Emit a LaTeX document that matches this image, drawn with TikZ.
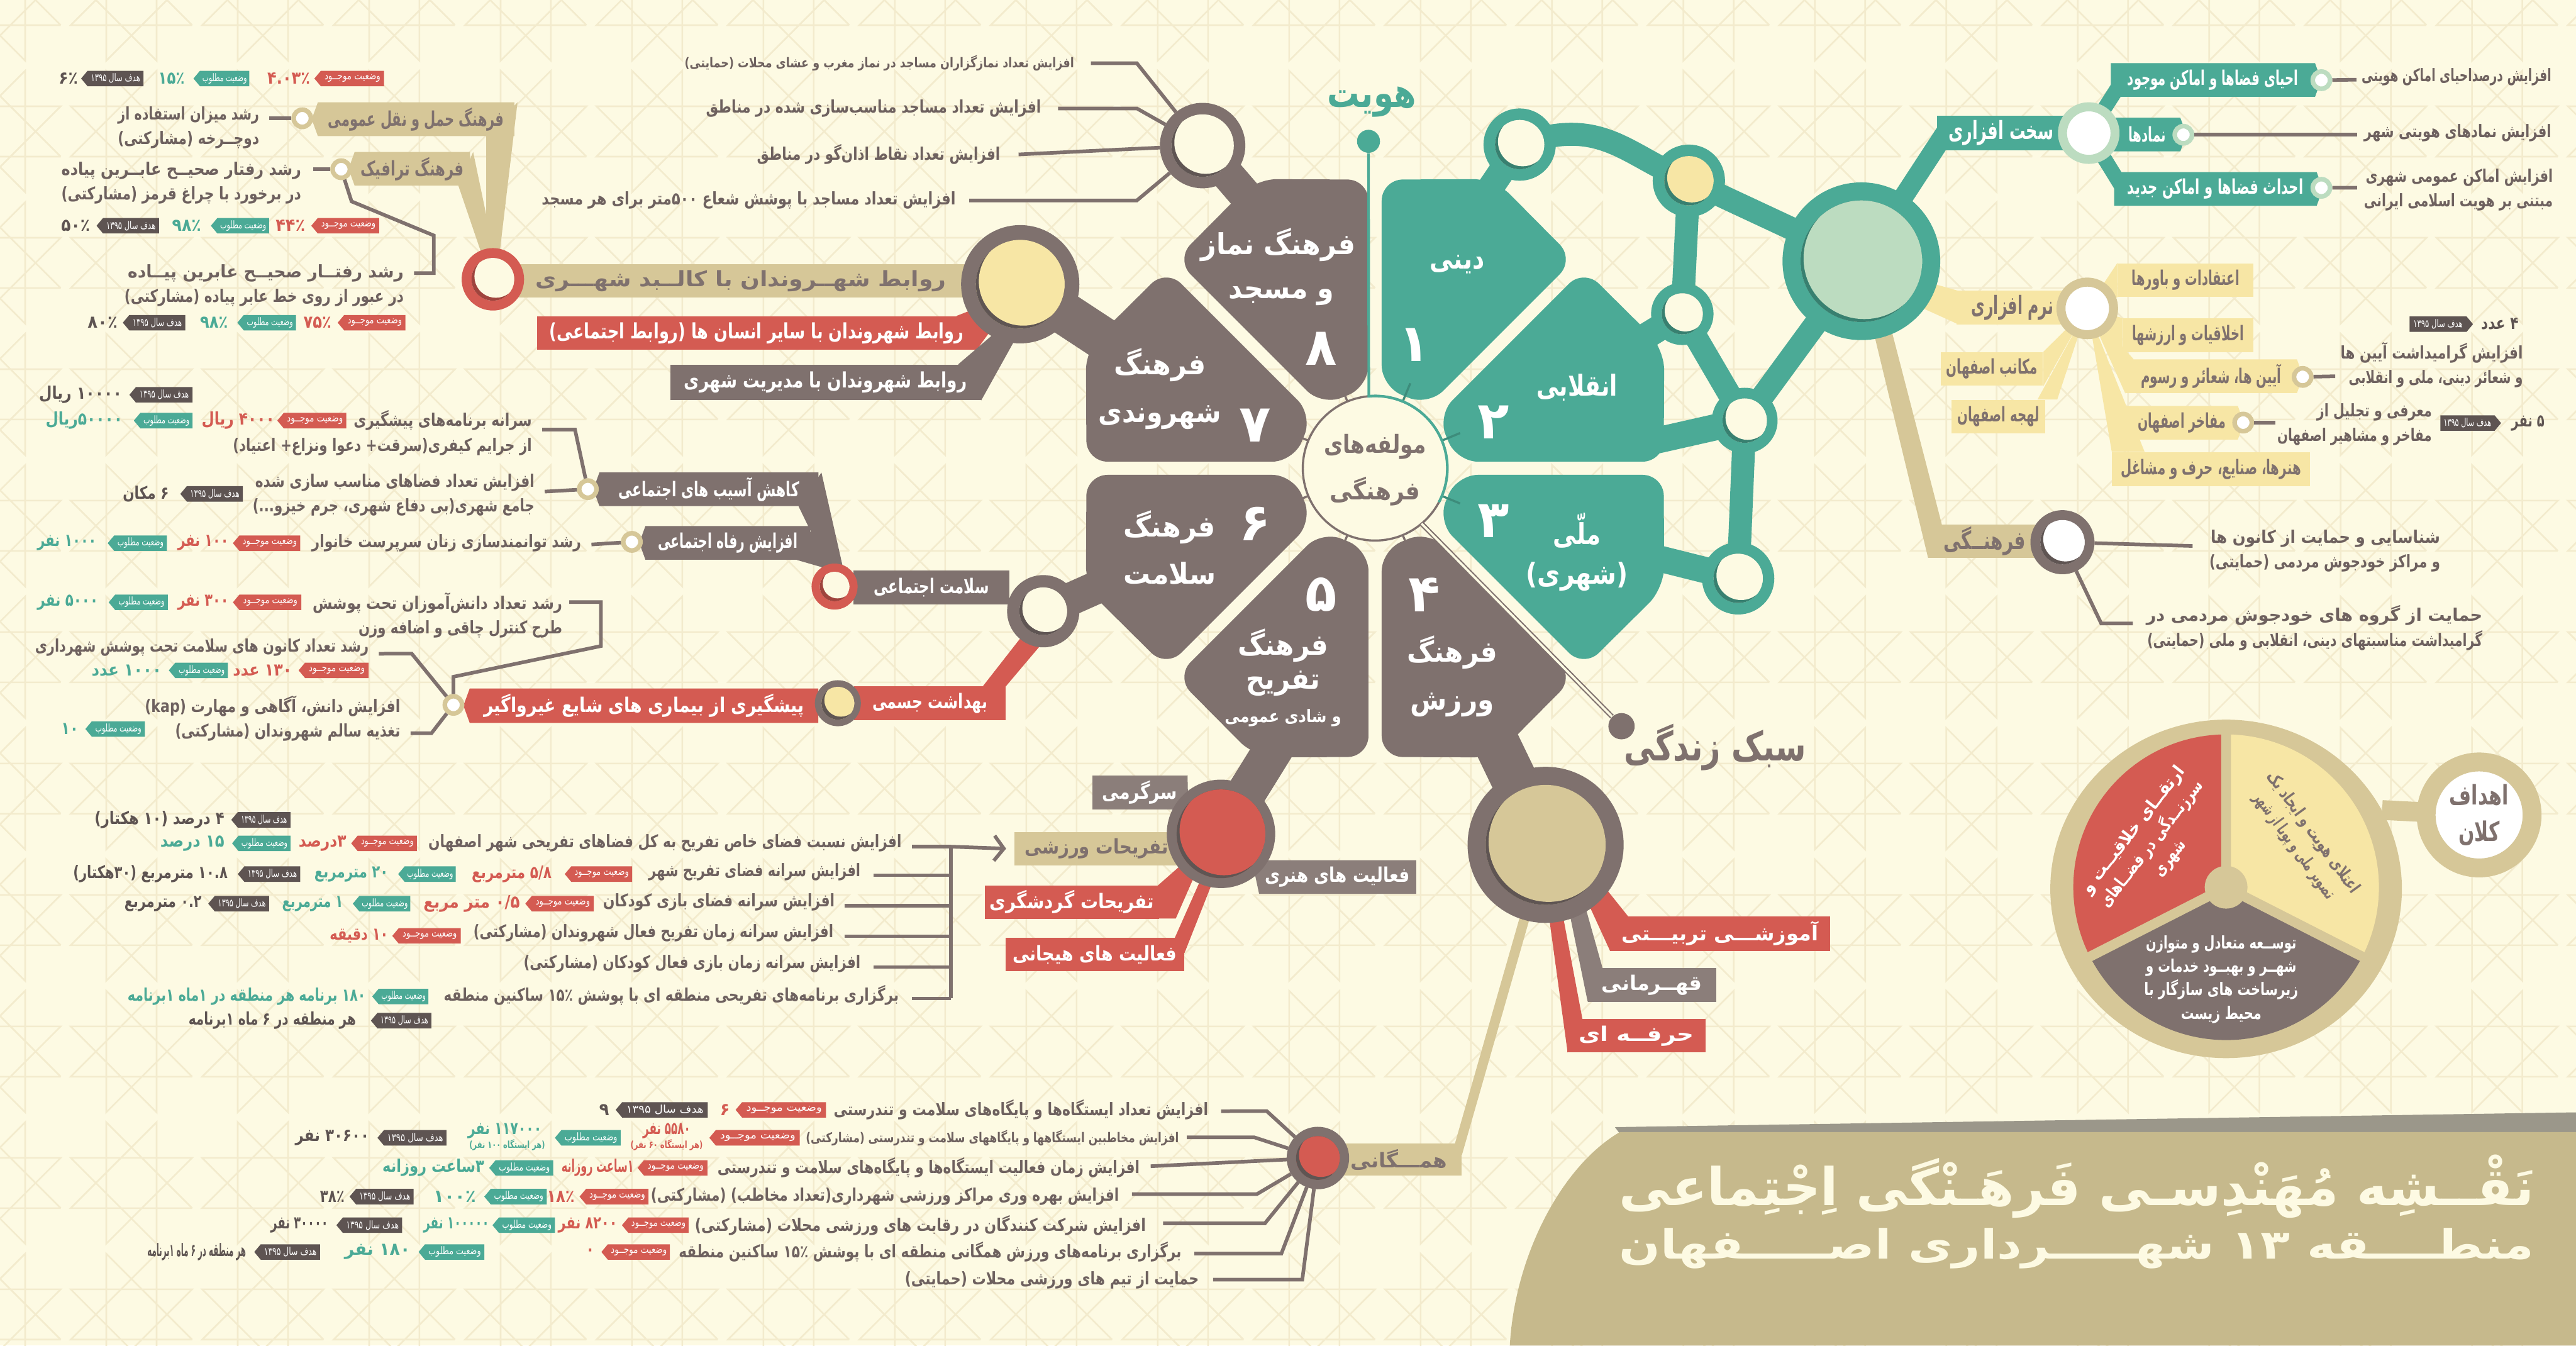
\documentclass[tikz,border=0pt]{standalone}
\usepackage{fontspec}
\usepackage{graphicx}
\usetikzlibrary{calc,shapes.symbols,arrows.meta}
\newfontfamily\arabicfont[Script=Arabic]{DejaVu Sans}
\TeXXeTstate=1
\definecolor{bgcream}{HTML}{FDFAE3}
\definecolor{patline}{HTML}{F3EBCD}
\definecolor{iteal}{HTML}{4BAA96}
\definecolor{dteal}{HTML}{3D8C7B}
\definecolor{ltteal}{HTML}{BCDCC0}
\definecolor{ibrown}{HTML}{7F716E}
\definecolor{lbrown}{HTML}{8B7E7A}
\definecolor{dbrown}{HTML}{5E5452}
\definecolor{txtbrown}{HTML}{6E615F}
\definecolor{ired}{HTML}{D45B52}
\definecolor{itan}{HTML}{D6C798}
\definecolor{iyellow}{HTML}{F7E6A5}
\definecolor{ttan}{HTML}{C6B98C}
\definecolor{tgrey}{HTML}{9B978A}
\newlength{\upx}\setlength{\upx}{0.03cm}
\newcommand{\fw}[2]{\resizebox{#1\upx}{\height}{\beginR #2\endR}}
\newcommand{\tgm}[1]{\fw{#1}{وضعیت موجــود}}
\newcommand{\tgo}[1]{\fw{#1}{وضعیت مطلوب}}
\newcommand{\tgh}[1]{\fw{#1}{هدف سال ۱۳۹۵}}
\newcommand{\ringnode}[6]{%
  \node[circle, inner sep=0pt, fill=#6, draw=#5, line width={(#3-#4)*\upx}, minimum size={(#3+#4)*\upx}] (#1) at #2 {};
  \begin{scope}
    \clip (#1.center) circle (#4);
    \fill[#5!75!black] (#1.center) circle (#4);
    \fill[#6] ($(#1.center)+(1.8,-1.8)$) circle (#4);
  \end{scope}}
\tikzset{
  fsz/.style 2 args={font=\arabicfont\fontsize{#1}{#2}\selectfont},
  bfsz/.style 2 args={font=\arabicfont\bfseries\fontsize{#1}{#2}\selectfont},
  item/.style={bfsz={9pt}{12.8pt}, text=txtbrown, inner sep=0pt, anchor=east, align=right},
  smallitem/.style={item, bfsz={7pt}{8pt}},
  itemw/.style={item, anchor=west},
  conn/.style={draw=ibrown, line width=2.2\upx},
  tagst/.style={signal, signal to=west, signal pointer angle=100, minimum height=9.4\upx, inner sep=0pt, anchor=east, text=white, fsz={5.5pt}{5.5pt}},
  tagr/.style={tagst, fill=ired, minimum width=#1\upx},
  tagt/.style={tagst, fill=iteal, minimum width=#1\upx},
  tagd/.style={tagst, fill=dbrown, minimum width=#1\upx},
  tagde/.style={tagd=#1, signal to=east},
  valst/.style={anchor=east, inner sep=0pt, bfsz={9pt}{9pt}},
  valr/.style={valst, text=ired},
  valt/.style={valst, text=iteal},
  vald/.style={valst, text=dbrown},
  barst/.style={inner sep=0pt, minimum height=20.5\upx, bfsz={10.5pt}{10.5pt}},
  tanbar/.style={barst, fill=itan, text=ibrown},
  redbar/.style={barst, fill=ired, text=white},
  brbar/.style={barst, fill=ibrown, text=white},
  lbbar/.style={barst, fill=lbrown, text=white},
  tealbar/.style={barst, fill=iteal, text=white},
  yelbar/.style={barst, fill=iyellow, text=ibrown},
  ptw/.style={signal, signal to=west, signal pointer angle=140},
  pte/.style={signal, signal to=east, signal pointer angle=140},
  sring/.style={circle, inner sep=0pt, fill=white, draw=#1, line width=2.8\upx, minimum size=10.5\upx},
  halo/.style={circle, inner sep=0pt, fill=white, draw=#1, line width=5.5\upx, minimum size=32\upx},
  tiletxt/.style={bfsz={15pt}{15pt}, text=white, inner sep=0pt},
  tilenum/.style={bfsz={27pt}{27pt}, text=white, inner sep=0pt},
}
\begin{document}
\begin{tikzpicture}[x=0.03cm,y=-0.03cm]
\useasboundingbox (0,0) rectangle (1568,819);
\fill[bgcream] (0,0) rectangle (1568,819);
\begin{scope}
  \clip (0,0) rectangle (1568,819);
  \foreach \gx in {0,...,20}{
    \foreach \gy in {0,...,11}{
      \draw[patline, line width=1\upx] plot[samples at={0,3,6,1,4,7,2,5,0}, variable=\k]
        ({\gx*80+40*cos(\k*45+22.5)},{\gy*80+40*sin(\k*45+22.5)});
    }
  }
\end{scope}

\fill[tgrey] (983,686) -- (1568,677) -- (1568,690) -- (986,690) -- cycle;
\fill[ttan] (986,689) .. controls (950,710) and (922,765) .. (919,819) -- (1568,819) -- (1568,689) -- cycle;
\node[bfsz={27pt}{27pt}, text=bgcream, inner sep=0pt] (ttl1) at (1264,722) {\fw{557}{نَقْــشِه مُهَنْدِسـی فَرهَـنْگی اِجْتِماعی}};
\node[bfsz={21pt}{21pt}, text=bgcream, inner sep=0pt] (ttl2) at (1264,760) {\fw{557}{منطــــقه ۱۳ شهـــــرداری اصـــــفهان}};

\coordinate (hubc) at (837,285);
\coordinate (k8) at (732,88.6);
\coordinate (k7) at (621,173);
\coordinate (k6) at (635,372);
\coordinate (k5) at (743.2,507.5);
\coordinate (k4) at (940.8,514.2);
\coordinate (kA) at (925,88);
\coordinate (kB) at (1028,110);
\coordinate (kC) at (1024,191);
\coordinate (kE) at (1062,256);
\coordinate (kD) at (1058,352);
\coordinate (kbig) at (1133,159);

\draw[ibrown, line width=20\upx] (k8) -- (772,135);
\draw[ibrown, line width=26\upx] (k7) -- (685,215);
\draw[ibrown, line width=20\upx] (k6) -- (680,352);
\draw[ibrown, line width=24\upx] (k5) -- (785,440);
\draw[ibrown, line width=28\upx] (k4) -- (905,440);
\draw[iteal, line width=16\upx] (kA) -- (900,125);
\draw[iteal, line width=14\upx] (kA) .. controls (975,70) and (990,95) .. (kB);
\draw[iteal, line width=14\upx] (kB) -- (kbig);
\draw[iteal, line width=14\upx] (kB) -- (kC);
\draw[iteal, line width=16\upx] (kC) -- (985,215);
\draw[iteal, line width=14\upx] (kC) -- (kE);
\draw[iteal, line width=14\upx] (kE) -- (kbig);
\draw[iteal, line width=16\upx] (kE) -- (1000,270);
\draw[iteal, line width=14\upx] (kE) -- (kD);
\draw[iteal, line width=16\upx] (kD) -- (990,335);
\draw[iteal, line width=12\upx] (kbig) -- (1184,81);
\fill[iyellow] (1160,168) -- (1192,177) -- (1192,197.4) -- (1158,182) -- cycle;
\fill[itan] (1138,192) -- (1149,192) -- (1182,319.3) -- (1173.6,339.6) -- cycle;

\foreach \k/\col in {0/iteal,1/iteal,2/ibrown,3/ibrown,4/ibrown,5/ibrown,6/ibrown,7/iteal}{
  \pgfmathsetmacro\aa{-45*\k}
  \pgfmathsetmacro\ab{-45*\k-45}
  \pgfmathsetmacro\am{-45*\k-22.5}
  \pgfmathsetmacro\cx{837+10.5*cos(\am)}
  \pgfmathsetmacro\cy{285+10.5*sin(\am)}
  \fill[\col, rounded corners=11pt, shift={(\cx,\cy)}] (\aa:40) -- (\aa:166) -- (\am:180) -- (\ab:166) -- (\ab:40) -- cycle;
}

\node[circle, draw=ibrown, line width=1.3\upx, fill=bgcream, minimum size=88\upx, inner sep=0pt] (hub) at (hubc) {};
\foreach \a/\sc in {22.5/dteal,67.5/dteal,112.5/ibrown,157.5/ibrown,202.5/ibrown,247.5/ibrown,292.5/ibrown,337.5/dteal}
  \draw[\sc, line width=1.3\upx] ($(hubc)+(-\a:44)$) -- ($(hubc)+(-\a:56)$);
\node[bfsz={13pt}{13pt}, text=ibrown, inner sep=0pt] (hubt1) at (837,272) {\fw{62}{مولفه‌های}};
\node[bfsz={13pt}{13pt}, text=ibrown, inner sep=0pt] (hubt2) at (837,299) {\fw{55}{فرهنگی}};

\node[circle, fill=iteal, minimum size=14\upx, inner sep=0pt] (hvdot) at (833,86) {};
\draw[iteal, line width=1.6\upx] (hvdot) -- ($(hubc)+(-95:44)$) arc[start angle=-95, end angle=28, radius=44];
\node[bfsz={21pt}{21pt}, text=iteal, inner sep=0pt] (hvt) at (835,62) {\fw{54}{هویت}};
\node[circle, fill=ibrown, minimum size=16\upx, inner sep=0pt] (sbdot) at (987,442) {};
\draw[ibrown, line width=0.8\upx, double=bgcream, double distance=1.4\upx] ($(hubc)+(50:44)$) -- (sbdot);
\node[bfsz={21pt}{21pt}, text=ibrown, inner sep=0pt] (sbk) at (1044,455) {\fw{111}{سبک زندگی}};

\node[tiletxt] (tx1a) at (887,161) {\fw{33}{دینی}};
\node[tilenum] (tx1n) at (861,210) {\beginR ۱\endR};
\node[tiletxt] (tx2a) at (960,236) {\fw{49}{انقلابی}};
\node[tilenum] (tx2n) at (909,257) {\beginR ۲\endR};
\node[tiletxt] (tx3a) at (960,323) {\fw{29}{ملّی}};
\node[tiletxt] (tx3b) at (960,351) {\fw{62}{(شهری)}};
\node[tilenum] (tx3n) at (909,317) {\beginR ۳\endR};
\node[tilenum] (tx4n) at (867,362) {\beginR ۴\endR};
\node[tiletxt] (tx4a) at (884,397) {\fw{55}{فرهنگ}};
\node[tiletxt] (tx4b) at (884,429) {\fw{51}{ورزش}};
\node[tilenum] (tx5n) at (804,362) {\beginR ۵\endR};
\node[tiletxt] (tx5a) at (781,393) {\fw{55}{فرهنگ}};
\node[tiletxt] (tx5b) at (781,416) {\fw{45}{تفریح}};
\node[tiletxt, bfsz={9pt}{9pt}] (tx5c) at (781,437) {\fw{71}{و شادی عمومی}};
\node[tilenum] (tx6n) at (764,319) {\beginR ۶\endR};
\node[tiletxt] (tx6a) at (712,321) {\fw{56}{فرهنگ}};
\node[tiletxt] (tx6b) at (712,349) {\fw{56}{سلامت}};
\node[tiletxt] (tx7a) at (706,222) {\fw{56}{فرهنگ}};
\node[tiletxt] (tx7b) at (706,254) {\fw{75}{شهروندی}};
\node[tilenum] (tx7n) at (764,259) {\beginR ۷\endR};
\node[tiletxt] (tx8a) at (778,149) {\fw{94}{فرهنگ نماز}};
\node[tiletxt] (tx8b) at (780,180) {\fw{64}{و مسجد}};
\node[tilenum] (tx8n) at (804,212) {\beginR ۸\endR};

\ringnode{rA}{(kA)}{22}{15}{iteal}{bgcream}
\ringnode{rB}{(kB)}{22}{15}{iteal}{iyellow}
\ringnode{rC}{(kC)}{19}{12.5}{iteal}{bgcream}
\ringnode{rE}{(kE)}{20}{13.5}{iteal}{bgcream}
\ringnode{rD}{(kD)}{22}{15}{iteal}{bgcream}
\ringnode{bigc}{(kbig)}{48}{37}{iteal}{ltteal}

\ringnode{R8}{(k8)}{26}{19}{ibrown}{bgcream}
\node[smallitem] (t81) at (654,38.5) {\fw{237}{افزایش تعداد نمازگزاران مساجد در نماز مغرب و عشای محلات (حمایتی)}};
\node[item] (t82) at (634,66) {\fw{204}{افزایش تعداد مساجد مناسب‌سازی شده در مناطق}};
\node[item] (t83) at (609,94) {\fw{148}{افزایش تعداد نقاط اذان‌گو در مناطق}};
\node[item] (t84) at (582,122) {\fw{252}{افزایش تعداد مساجد با پوشش شعاع ۵۰۰متر برای هر مسجد}};
\draw[conn] ($(t81.east)+(10,0)$) -- ++(28,0) -- (R8);
\draw[conn] ($(t82.east)+(10,0)$) -- ++(48,0) -- (R8);
\draw[conn] ($(t83.east)+(11,0)$) -- (R8);
\draw[conn] ($(t84.east)+(8,0)$) -- ++(102,0) -- (R8);

\node[tanbar, minimum width=292\upx, bfsz={11pt}{11pt}] (kal) at (451,171) {\fw{250}{روابط شهــروندان با کالــبد شهـــری}};
\node[redbar, minimum width=267\upx, bfsz={11pt}{11pt}] (ens) at (460.5,202.75) {\fw{252}{روابط شهروندان با سایر انسان ها (روابط اجتماعی)}};
\fill[ired] ($(ens.north east)+(-12,0)$) -- ($(k7)+(-20,12)$) -- ($(k7)+(-12,20)$) -- (ens.south east) -- cycle;
\node[brbar, minimum width=189\upx, minimum height=21.5\upx, bfsz={11pt}{11pt}] (mod) at (502.5,232.75) {\fw{172}{روابط شهروندان با مدیریت شهری}};
\fill[ibrown] ($(mod.north east)+(-14,0)$) -- ($(k7)+(-10,25)$) -- ($(k7)+(0,28)$) -- (mod.south east) -- cycle;
\ringnode{R7}{(k7)}{36}{27}{ibrown}{iyellow}
\fill[itan] (296,82.8) -- (315,62.3) -- (304,155) -- (296,155) -- cycle;
\fill[itan] (279,113) -- (288,92.5) -- (301,155) -- (294,157) -- cycle;
\node[tanbar, ptw, minimum width=123.4\upx] (hml) at (253.3,72.55) {\fw{107}{فرهنگ حمل و نقل عمومی}};
\node[tanbar, ptw, minimum width=74\upx] (trf) at (251,102.75) {\fw{63}{فرهنگ ترافیک}};
\ringnode{RR}{(300,170)}{19}{13}{ired}{bgcream}
\node[sring=itan] (tr1) at (184,72) {};
\node[sring=itan] (tr2) at (207.7,103) {};
\node[item] (i71) at (158,77.8) {\fw{86}{رشد میزان استفاده از}\\\fw{86}{دوچــرخه (مشارکتی)}};
\node[item] (i72) at (183.6,111.5) {\fw{146}{رشد رفتار صحیــح عابــرین پیاده}\\\fw{146}{در برخورد با چراغ قرمز (مشارکتی)}};
\node[item] (i73) at (246,173.7) {\fw{168}{رشد رفتــار صحیــح عابرین پیــاده}\\\fw{170}{در عبور از روی خط عابر پیاده (مشارکتی)}};
\draw[conn] (tr1) -- ++(-20,0);
\draw[conn] (tr2) -- ++(-17,0);
\draw[conn] (tr2) -- (214,122.6) -- (264,143.3) |- ($(i73.east)+(6,-7.5)$);
\node[tagr=42.4] (ra1) at (234,47.8) {\tgm{34}};
\node[valr] (ra2) at (189,47.8) {\fw{26}{۴.۰۳٪}};
\node[tagt=34] (ra3) at (152,47.8) {\tgo{27}};
\node[valt] (ra4) at (112.6,47.8) {\fw{16}{۱۵٪}};
\node[tagd=38] (ra5) at (87.6,47.8) {\tgh{30}};
\node[vald] (ra6) at (47.7,47.8) {\fw{11.7}{۶٪}};
\node[tagr=41.3] (rb1) at (231,137.4) {\tgm{33}};
\node[valr] (rb2) at (186,137.4) {\fw{18}{۴۴٪}};
\node[tagt=35.4] (rb3) at (164,137.4) {\tgo{28}};
\node[valt] (rb4) at (122.7,137.4) {\fw{17.7}{۹۸٪}};
\node[tagd=38] (rb5) at (97,137.4) {\tgh{30}};
\node[vald] (rb6) at (55,137.4) {\fw{17.5}{۵۰٪}};
\node[tagr=41.2] (rc1) at (247,196.4) {\tgm{33}};
\node[valr] (rc2) at (202,196.4) {\fw{17}{۷۵٪}};
\node[tagt=35.7] (rc3) at (180.4,196.4) {\tgo{28}};
\node[valt] (rc4) at (139,196.4) {\fw{17}{۹۸٪}};
\node[tagd=38] (rc5) at (113,196.4) {\tgh{30}};
\node[vald] (rc6) at (71.8,196.4) {\fw{18.2}{۸۰٪}};

\node[brbar, minimum width=95\upx] (salj) at (567,357.5) {\fw{70}{سلامت اجتماعی}};
\fill[ired] ($(k6)+(-12,14)$) -- ($(k6)+(-1,20)$) -- (612,418) -- (598,418) -- cycle;
\node[redbar, minimum width=92\upx] (bhd) at (566,428) {\fw{70}{بهداشت جسمی}};
\ringnode{R6}{(k6)}{22}{14.5}{ibrown}{bgcream}
\fill[ibrown] (486,308) -- (500,287.6) -- (513,345) -- (504,345) -- cycle;
\fill[ibrown] (485,340.8) -- (495,320) -- (511,344) -- (503,346) -- cycle;
\node[brbar, ptw, minimum width=137\upx] (ksb) at (431.5,297.8) {\fw{110}{کاهش آسیب های اجتماعی}};
\node[brbar, ptw, minimum width=104\upx] (rfh) at (443,330.4) {\fw{85}{افزایش رفاه اجتماعی}};
\ringnode{RH}{(508,357)}{14}{9}{ired}{bgcream}
\node[redbar, ptw, minimum width=216\upx, minimum height=21\upx] (pish) at (392,429.5) {\fw{195}{پیشگیری از بیماری های شایع غیرواگیر}};
\ringnode{RY}{(510,428)}{14}{10}{ibrown}{iyellow}
\node[sring=itan] (trk) at (357.8,297.7) {};
\node[sring=itan] (trr) at (384.6,329.8) {};
\node[sring=itan] (trh) at (276,429) {};
\node[item] (h1) at (324,263.5) {\fw{108.5}{سرانه برنامه‌های پیشگیری}\\\fw{182}{از جرایم کیفری(سرقت+ دعوا ونزاع+ اعتیاد)}};
\node[item] (h2) at (325.6,301.2) {\fw{170}{افزایش تعداد فضاهای مناسب سازی شده}\\\fw{171.5}{جامع شهری(بی دفاع شهری، جرم خیزو...)}};
\node[item] (h3) at (354,330.6) {\fw{164}{رشد توانمندسازی زنان سرپرست خانوار}};
\node[item] (h4) at (342.5,374.4) {\fw{152}{رشد تعداد دانش‌آموزان تحت پوشش}\\\fw{124}{طرح کنترل چاقی و اضافه وزن}};
\node[item] (h5) at (224.6,393.9) {\fw{203}{رشد تعداد کانون های سلامت تحت پوشش شهرداری}};
\node[item] (h6) at (243.9,437.3) {\fw{155.5}{افزایش دانش، آگاهی و مهارت \beginL(kap)\endL}\\\fw{137}{تغذیه سالم شهروندان (مشارکتی)}};
\draw[conn] ($(h1.east)+(6,-2)$) -- ++(20,0) -- (trk);
\draw[conn] ($(h2.east)+(6,-2)$) -- (trk);
\draw[conn] ($(h3.east)+(6,0.8)$) -- (trr);
\draw[conn] ($(h4.east)+(4,-8)$) -- (365.8,366.4) -- (365.8,393.2) -- (276,411.9) -- (trh);
\draw[conn] ($(h5.east)+(6,4)$) -- (250.6,397.8) -- (trh);
\draw[conn] ($(h6.east)+(6,9)$) -- (262.6,446.3) -- (trh);
\node[tagd=38.4] (hr0a) at (117.4,240.3) {\tgh{30}};
\node[vald] (hr0b) at (74.5,240.3) {\fw{50.5}{۱۰۰۰۰ ریال}};
\node[tagr=42] (hr1a) at (211,256) {\tgm{34}};
\node[valr] (hr1b) at (167.5,256) {\fw{44.5}{۴۰۰۰ ریال}};
\node[tagt=35.7] (hr1c) at (117.4,256) {\tgo{28}};
\node[valt] (hr1d) at (75,256) {\fw{47}{۵۰۰۰۰ریال}};
\node[tagd=38] (hr2a) at (148,300.6) {\tgh{30}};
\node[vald] (hr2b) at (103,300.6) {\fw{28}{۶ مکان}};
\node[tagr=41] (hr3a) at (183,330.6) {\tgm{33}};
\node[valr] (hr3b) at (139.4,330.6) {\fw{31}{۱۰۰ نفر}};
\node[tagt=36] (hr3c) at (101.8,330.6) {\tgo{28}};
\node[valt] (hr3d) at (59,330.6) {\fw{36}{۱۰۰۰ نفر}};
\node[tagr=41.6] (hr4a) at (183.6,366.6) {\tgm{33}};
\node[valr] (hr4b) at (139.4,366.6) {\fw{31}{۳۰۰ نفر}};
\node[tagt=36] (hr4c) at (102.4,366.6) {\tgo{28}};
\node[valt] (hr4d) at (60,366.6) {\fw{37}{۵۰۰۰ نفر}};
\node[tagr=42.6] (hr5a) at (224.6,408) {\tgm{34}};
\node[valr] (hr5b) at (178,408) {\fw{36}{۱۳۰ عدد}};
\node[tagt=36] (hr5c) at (139,408) {\tgo{28}};
\node[valt] (hr5d) at (98.6,408) {\fw{42.6}{۱۰۰۰ عدد}};
\node[tagt=36.2] (hr6a) at (88.4,443.7) {\tgo{28}};
\node[valt] (hr6b) at (48,443.7) {\fw{10.5}{۱۰}};

\node[lbbar, minimum width=57.6\upx, minimum height=20.8\upx] (srg) at (693.8,482.4) {\fw{45.5}{سرگرمی}};
\fill[lbrown] (srg.north east) -- ($(k5)+(-20,-20)$) -- ($(k5)+(-22,-5)$) -- (srg.south east) -- cycle;
\node[tanbar, minimum width=99.7\upx, minimum height=20.3\upx] (tvr) at (667.5,516.5) {\fw{87.5}{تفریحات ورزشی}};
\fill[ired] (704.7,539) -- ($(k5)+(-22,17)$) -- ($(k5)+(-15,23)$) -- (715.7,559) -- (704.7,559) -- cycle;
\node[redbar, minimum width=106.4\upx, minimum height=20.3\upx] (tgd) at (652.5,549) {\fw{100}{تفریحات گردشگری}};
\fill[ired] (715,571) -- ($(k5)+(-12,27)$) -- ($(k5)+(-5,29)$) -- (721,580) -- cycle;
\node[redbar, minimum width=109\upx, minimum height=20.2\upx] (fhj) at (666.5,581) {\fw{100}{فعالیت های هیجانی}};
\fill[lbrown] (762,523.5) -- (862,523.5) -- (862,544) -- (766.4,544) -- cycle;
\node[lbbar, fill=none, minimum width=96\upx] (fhn) at (814,533.75) {\fw{88}{فعالیت های هنری}};
\ringnode{R5}{(k5)}{33}{27}{ibrown}{ired}
\node[item] (re1) at (549,513.3) {\fw{288}{افزایش نسبت فضای خاص تفریح به کل فضاهای تفریحی شهر اصفهان}};
\node[item] (re2) at (524,530.7) {\fw{129}{افزایش سرانه فضای تفریح شهر}};
\node[item] (re3) at (508.3,549.2) {\fw{141}{افزایش سرانه فضای بازی کودکان}};
\node[item] (re4) at (507.5,567.8) {\fw{219}{افزایش سرانه زمان تفریح فعال شهروندان (مشارکتی)}};
\node[item] (re5) at (524,586.6) {\fw{205}{افزایش سرانه زمان بازی فعال کودکان (مشارکتی)}};
\node[item] (re6) at (547.4,605.7) {\fw{277}{برگزاری برنامه‌های تفریحی منطقه ای با پوشش ۱۵٪ ساکنین منطقه}};
\coordinate (brk) at (578.7,515.3);
\draw[conn] (brk) -- (578.7,607.7);
\draw[conn, -{Straight Barb[length=5pt, width=13pt]}] (brk) -- ($(tvr.west)+(-5,0)$);
\draw[conn] ($(re1.east)+(6,2)$) -- (brk);
\draw[conn] ($(re2.east)+(7.8,2)$) -- (578.7,532.7);
\draw[conn] ($(re3.east)+(5.7,2)$) -- (578.7,551.2);
\draw[conn] ($(re4.east)+(6.5,2)$) -- (578.7,569.8);
\draw[conn] ($(re5.east)+(7.8,2)$) -- (578.7,588.6);
\draw[conn] ($(re6.east)+(7.6,2)$) -- (578.7,607.7);
\node[tagd=36] (rr0a) at (177,499) {\tgh{28}};
\node[vald] (rr0b) at (136.8,499) {\fw{79}{۴ درصد (۱۰ هکتار)}};
\node[tagr=40] (rr1a) at (254,513.3) {\tgm{32}};
\node[valr] (rr1b) at (211,513.3) {\fw{29}{۳درصد}};
\node[tagt=35.5] (rr1c) at (177,513.3) {\tgo{28}};
\node[valt] (rr1d) at (136.8,513.3) {\fw{39}{۱۵ درصد}};
\node[tagr=41] (rr2a) at (385,532) {\tgm{33}};
\node[valr] (rr2b) at (336,532) {\fw{48.6}{۵/۸ مترمربع}};
\node[tagt=35] (rr2c) at (277.6,532) {\tgo{28}};
\node[valt] (rr2d) at (236.6,532) {\fw{45}{۲۰ مترمربع}};
\node[tagd=38] (rr2e) at (183,532) {\tgh{30}};
\node[vald] (rr2f) at (138.8,532) {\fw{94}{۱۰.۸ مترمربع (۳۰هکتار)}};
\node[tagr=41.7] (rr3a) at (361.7,550) {\tgm{33}};
\node[valr] (rr3b) at (316.7,550) {\fw{58.7}{۰/۵ متر مربع}};
\node[tagt=35] (rr3c) at (250,550) {\tgo{28}};
\node[valt] (rr3d) at (209,550) {\fw{37}{۱ مترمربع}};
\node[tagd=37] (rr3e) at (164,550) {\tgh{29}};
\node[vald] (rr3f) at (123,550) {\fw{47}{۰.۲ مترمربع}};
\node[tagr=41.7] (rr4a) at (280.7,569.6) {\tgm{33}};
\node[valr] (rr4b) at (236.6,569.6) {\fw{35.6}{۱۰ دقیقه}};
\node[tagt=34.2] (rr6a) at (261,606.5) {\tgo{27}};
\node[valt] (rr6b) at (222.9,606.5) {\fw{145}{۱۸۰ برنامه هر منطقه در ۱ماه ۱برنامه}};
\node[tagd=36.8] (rr7a) at (262.8,621.2) {\tgh{29}};
\node[vald] (rr7b) at (217,621.2) {\fw{102}{هر منطقه در ۶ ماه ۱برنامه}};

\fill[ired] ($(k4)+(22,27)$) -- ($(k4)+(33,22)$) -- (991,557.7) -- (980,578.7) -- cycle;
\fill[lbrown] ($(k4)+(13,34)$) -- ($(k4)+(22,30)$) -- (975.4,589) -- (966.4,609.7) -- cycle;
\fill[ired] ($(k4)+(1,36)$) -- ($(k4)+(9,35)$) -- (963.2,620.2) -- (954.2,640.6) -- cycle;
\draw[itan, line width=6\upx] (k4) -- (887,702);
\ringnode{R4}{(k4)}{47.5}{36.5}{ibrown}{itan}
\node[redbar, minimum width=134\upx, minimum height=21\upx] (amz) at (1047,568.2) {\fw{119.5}{آموزشـــی تربیـــتی}};
\node[lbbar, minimum width=78\upx, minimum height=20.7\upx] (qhr) at (1005.5,599.4) {\fw{61}{قهــرمانی}};
\node[redbar, minimum width=84\upx, minimum height=20.4\upx] (hrf) at (996,630.4) {\fw{70}{حرفــه ای}};
\node[tanbar, minimum width=76\upx, minimum height=19.7\upx] (gh) at (851.5,705.8) {\fw{59}{همـــگانی}};
\ringnode{RG}{(802.2,704.8)}{19}{13.3}{ibrown}{ired}
\node[item] (gs1) at (735.7,675.3) {\fw{228}{افزایش تعداد ایستگاه‌ها و پایگاه‌های سلامت و تندرستی}};
\node[smallitem] (gs2) at (717.8,692.8) {\fw{227}{افزایش مخاطبین ایستگاهها و پایگاههای سلامت و تندرستی (مشارکتی)}};
\node[item] (gs3) at (694,710.8) {\fw{257}{افزایش زمان فعالیت ایستگاه‌ها و پایگاه‌های سلامت و تندرستی}};
\node[item] (gs4) at (681.4,728.3) {\fw{285}{افزایش بهره وری مراکز ورزشی شهرداری(تعداد مخاطب) (مشارکتی)}};
\node[item] (gs5) at (697.7,745.7) {\fw{274.5}{افزایش شرکت کنندگان در رقابت های ورزشی محلات (مشارکتی)}};
\node[item] (gs6) at (719.4,762) {\fw{306}{برگزاری برنامه‌های ورزش همگانی منطقه ای با پوشش ۱۵٪ ساکنین منطقه}};
\node[item] (gs7) at (730,779) {\fw{179}{حمایت از تیم های ورزشی محلات (حمایتی)}};
\draw[conn] ($(gs1.east)+(7.6,1)$) -- (771,676.2) -- (RG);
\draw[conn] ($(gs2.east)+(4.6,-0.6)$) -- (763.4,692.2) -- (RG);
\draw[conn] ($(gs3.east)+(6.4,-1)$) -- (RG);
\draw[conn] ($(gs4.east)+(7.6,-1.5)$) -- (765,726.8) -- (RG);
\draw[conn] ($(gs5.east)+(10.3,-1.1)$) -- (769.9,744.6) -- (RG);
\draw[conn] ($(gs6.east)+(7.6,0.9)$) -- (780,762.9) -- (RG);
\draw[conn] ($(gs7.east)+(8.4,-0.2)$) -- (792.7,778.8) -- (RG);
\node[tagr=55] (g1a) at (503,675.5) {\tgm{46}};
\node[valr] (g1b) at (444.5,675.5) {\fw{6}{۶}};
\node[tagd=56] (g1c) at (431,675.5) {\tgh{47}};
\node[vald] (g1d) at (371,675.5) {\fw{6}{۹}};
\node[tagr=55] (g2a) at (487,692.5) {\tgm{46}};
\node[valr] (g2b) at (420.5,688.4) {\fw{29}{۵۵۸۰ نفر}};
\node[valr, bfsz={5pt}{5pt}] (g2c) at (428,696.8) {\fw{44}{(هر ایستگاه ۶۰ نفر)}};
\node[tagt=40] (g2d) at (378,692.5) {\tgo{32}};
\node[valt] (g2e) at (330,688.4) {\fw{45}{۱۱۷۰۰۰ نفر}};
\node[valt, bfsz={5pt}{5pt}] (g2f) at (332,696.8) {\fw{46}{(هر ایستگاه ۱۰۰ نفر)}};
\node[tagd=42] (g2g) at (272,692.5) {\tgh{34}};
\node[vald] (g2h) at (225,692.5) {\fw{45}{۳۰۶۰۰ نفر}};
\node[tagr=42.5] (g3a) at (430.8,710.8) {\tgm{34}};
\node[valr] (g3b) at (386,710.8) {\fw{44}{۱ساعت روزانه}};
\node[tagt=39] (g3c) at (337,710.8) {\tgo{31}};
\node[valt] (g3d) at (295,710.8) {\fw{62}{۳ساعت روزانه}};
\node[tagr=42] (g4a) at (395,728.3) {\tgm{34}};
\node[valr] (g4b) at (350,728.3) {\fw{17}{۱۸٪}};
\node[tagt=38] (g4c) at (333,728.3) {\tgo{30}};
\node[valt] (g4d) at (290,728.3) {\fw{26}{۱۰۰٪}};
\node[tagd=39] (g4e) at (252,728.3) {\tgh{31}};
\node[vald] (g4f) at (210,728.3) {\fw{15}{۳۸٪}};
\node[tagr=40.6] (g5a) at (419.4,745.7) {\tgm{33}};
\node[valr] (g5b) at (376,745.7) {\fw{36}{۸۲۰۰ نفر}};
\node[tagt=38] (g5c) at (338,745.7) {\tgo{30}};
\node[valt] (g5d) at (298,745.7) {\fw{40}{۱۰۰۰۰۰ نفر}};
\node[tagd=40] (g5e) at (245,745.7) {\tgh{32}};
\node[vald] (g5f) at (200,745.7) {\fw{35}{۳۰۰۰۰ نفر}};
\node[tagr=41.7] (g6a) at (408,762) {\tgm{34}};
\node[valr] (g6b) at (362,762) {\fw{5}{۰}};
\node[tagt=40] (g6c) at (295,762) {\tgo{32}};
\node[valt] (g6d) at (250,762) {\fw{40}{۱۸۰ نفر}};
\node[tagd=40] (g6e) at (195,762) {\tgh{32}};
\node[vald] (g6f) at (150,762) {\fw{60}{هر منطقه در ۶ ماه ۱برنامه}};

\node[tealbar, minimum width=84\upx, minimum height=20.8\upx, bfsz={13pt}{13pt}] (skt) at (1221,81) {\hspace*{-6\upx}\fw{64}{سخت افزاری}};
\draw[iteal, line width=9\upx] (1271.4,81) -- (1292,48.7);
\draw[iteal, line width=9\upx] (1271.4,81) -- (1292,114.5);
\node[tealbar, pte, minimum width=128\upx] (ehy) at (1347,48.7) {\fw{104}{احیای فضاها و اماکن موجود}};
\node[tealbar, pte, minimum width=50\upx] (nmd) at (1304,81.9) {\hspace*{6\upx}\fw{23}{نمادها}};
\node[tealbar, pte, minimum width=127\upx] (ehd) at (1348.5,115) {\fw{107}{احداث فضاها و اماکن جدید}};
\node[halo=ltteal] (rs) at (1271.4,81) {};
\node[sring=ltteal] (sr1) at (1413,48.8) {};
\node[sring=ltteal] (sr2) at (1329,82) {};
\node[sring=ltteal] (sr3) at (1413,114.3) {};
\node[itemw] (it1) at (1437.3,47) {\fw{115.4}{افزایش درصداحیای اماکن هویتی}};
\node[itemw] (it2) at (1438.7,81) {\fw{114}{افزایش نمادهای هویتی شهر}};
\node[itemw] (it3) at (1438.7,115.6) {\fw{114}{افزایش اماکن عمومی شهری}\\\fw{115}{مبتنی بر هویت اسلامی ایرانی}};
\draw[conn] (sr1) -- ($(it1.west)+(-3,1.5)$);
\draw[conn] (sr2) -- ($(it2.west)+(-4,1)$);
\draw[conn] (sr3) -- ($(it3.west)+(-4,-1.3)$);

\node[yelbar, minimum width=78\upx, bfsz={13pt}{13pt}] (nrm) at (1230,187.2) {\hspace*{-10\upx}\fw{50}{نرم افزاری}};
\node[yelbar, minimum width=82.7\upx] (y1) at (1330.4,170.5) {\fw{65.5}{اعتقادات و باورها}};
\node[yelbar, minimum width=79.7\upx] (y2) at (1331.9,204) {\fw{68}{اخلاقیات و ارزشها}};
\node[yelbar, pte, minimum width=108\upx] (y3) at (1346,229) {\fw{85.5}{آیین ها، شعائر و رسوم}};
\node[yelbar, minimum width=62.2\upx] (y4) at (1212.4,224.6) {\fw{55.6}{مکاتب اصفهان}};
\node[yelbar, minimum width=57\upx] (y5) at (1216.5,253.6) {\fw{50}{لهجه اصفهان}};
\node[yelbar, pte, minimum width=72\upx] (y6) at (1328,257.3) {\fw{53.6}{مفاخر اصفهان}};
\node[yelbar, minimum width=120.3\upx] (y7) at (1345.8,285.5) {\fw{109.7}{هنرها، صنایع، حرف و مشاغل}};
\coordinate (kn) at (1270.5,187.7);
\fill[iyellow] (kn) -- (y1.north west) -- (y1.south west) -- cycle;
\fill[iyellow] (kn) -- (y2.north west) -- (y2.south west) -- cycle;
\fill[iyellow] (kn) -- ($(y3.north west)+(5,0)$) -- (y3.south west) -- cycle;
\fill[iyellow] (kn) -- (y4.north east) -- (y4.south east) -- cycle;
\fill[iyellow] (kn) -- ($(y5.north east)+(7,0)$) -- ($(y5.north east)+(-5,0)$) -- cycle;
\fill[iyellow] (kn) -- (y6.north west) -- ($(y6.north west)+(0,12)$) -- cycle;
\fill[iyellow] (kn) -- (y7.north west) -- ($(y7.north west)+(20,0)$) -- cycle;
\node[halo=itan] (rn) at (kn) {};
\node[sring=itan] (sr4) at (1401.6,229.4) {};
\node[sring=itan] (sr5) at (1365.4,257.2) {};
\node[itemw] (it4) at (1424.4,222) {\fw{111}{افزایش گرامیداشت آیین ها}\\\fw{106}{و شعائر دینی، ملی و انقلابی}};
\node[itemw] (it5) at (1386,258.3) {\fw{70}{معرفی و تجلیل از}\\\fw{94}{مفاخر و مشاهیر اصفهان}};
\draw[conn] (sr4) -- ($(it4.west)+(-3,7)$);
\draw[conn] (sr5) -- ($(it5.west)+(-1,-1.1)$);
\node[tagde=38.6, anchor=east] (yt1) at (1505.6,197.3) {\tgh{30}};
\node[vald, anchor=west] (yt2) at (1510,197.3) {\fw{22.8}{۴ عدد}};
\node[tagde=37, anchor=east] (yt3) at (1522.7,257.5) {\tgh{29}};
\node[vald, anchor=west] (yt4) at (1528.5,257.5) {\fw{20}{۵ نفر}};

\node[tanbar, minimum width=73\upx, minimum height=20.3\upx, bfsz={13pt}{13pt}] (frh) at (1210,329.5) {\hspace*{-4\upx}\fw{50}{فرهنــگی}};
\ringnode{RF}{(1255.4,330)}{19.5}{13.5}{ibrown}{white}
\node[itemw] (it6) at (1344.6,335.3) {\fw{139.7}{شناسایی و حمایت از کانون ها}\\\fw{140.5}{و مراکز خودجوش مردمی (حمایتی)}};
\node[itemw] (it7) at (1306.2,382.2) {\fw{204.6}{حمایت از گروه های خودجوش مردمی در}\\\fw{204}{گرامیداشت مناسبتهای دینی، انقلابی و ملی (حمایتی)}};
\draw[conn] (RF) -- ($(it6.west)+(-10,-3)$);
\draw[conn] (RF) -- (1279,379.5) -- ($(it7.west)+(-8,-2.7)$);

\fill[itan] (1355,541) ellipse [x radius=107, y radius=103];
\coordinate (pie) at (1355,540);
\fill[ired] (pie) -- ++(-90:93) arc[start angle=-90, end angle=-207, radius=93] -- cycle;
\fill[iyellow] (pie) -- ++(27:93) arc[start angle=27, end angle=-90, radius=93] -- cycle;
\fill[ibrown] (pie) -- ++(-207:93) arc[start angle=-207, end angle=-333, radius=93] -- cycle;
\draw[itan, line width=6\upx] (pie) -- ++(-90:95) (pie) -- ++(-207:95) (pie) -- ++(27:95);
\fill[itan] (pie) circle (13);
\node[bfsz={9pt}{12pt}, text=white, rotate=52, align=center, inner sep=0pt] (gl1) at (1310,514) {\fw{95}{ارتقــای خلاقیــت و}\\\fw{95}{سرزنــدگی در فضــاهای}\\\fw{25}{شهری}};
\node[bfsz={9pt}{12pt}, text=ibrown, rotate=-54, align=center, inner sep=0pt] (gl2) at (1402,511) {\fw{89}{اعتلای هویت و ایجاد یک}\\\fw{77}{تصویر ملی و پویا از شهر}};
\node[bfsz={9pt}{12.2pt}, text=white, align=center, inner sep=0pt] (gl3) at (1352,596) {\fw{91.6}{توســعه متعادل و متوازن}\\\fw{91.6}{شهــر و بهبــود خدمات و}\\\fw{93.7}{زیرساخت های سازگار با}\\\fw{49}{محیط زیست}};
\coordinate (cahd) at (1509,496);
\draw[itan, line width=12\upx] (1450,493) -- (cahd);
\node[circle, fill=white, draw=itan, line width=11.5\upx, minimum size=64.5\upx, inner sep=0pt] (ahd) at (cahd) {};
\node[bfsz={14pt}{14pt}, text=ibrown, inner sep=0pt] (ahd1) at (1509,484) {\fw{36}{اهداف}};
\node[bfsz={14pt}{14pt}, text=ibrown, inner sep=0pt] (ahd2) at (1509,507) {\fw{25}{کلان}};
\end{tikzpicture}
\end{document}
